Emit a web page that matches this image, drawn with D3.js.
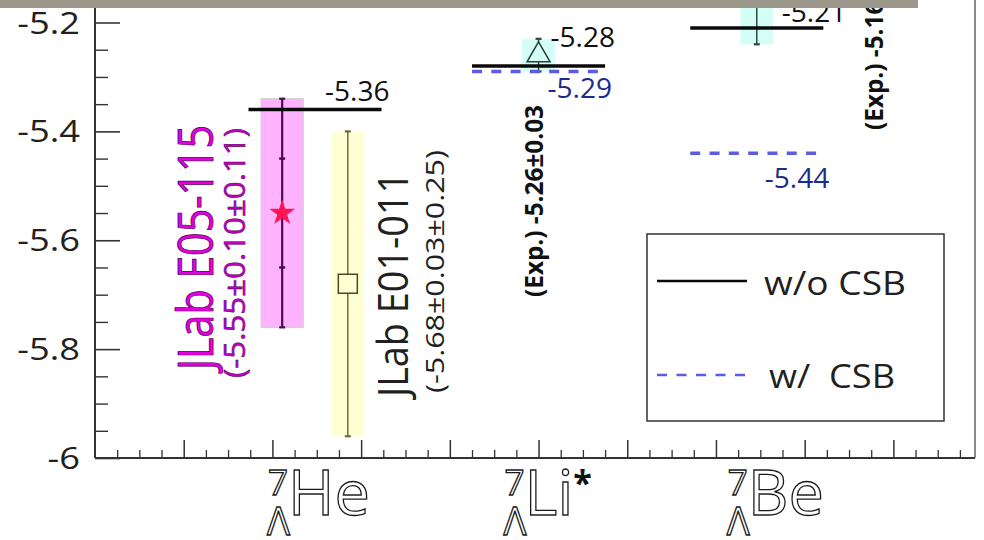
<!DOCTYPE html>
<html><head><meta charset="utf-8">
<script src="https://cdn.jsdelivr.net/npm/d3@7"></script>
<style>html,body{margin:0;padding:0;background:#fff;} svg{display:block;}</style>
</head><body>
<svg id="chart" width="984" height="540"></svg>
<script>
// Hypernuclei and their centre positions along the x axis
const categories = ["He", "Li", "Be"];
const categoryX = [2.48, 5.0, 7.46];

// Calculated Lambda binding energies (MeV)
const withoutCSB = [-5.36, -5.28, -5.21];
const withCSB = [null, -5.29, -5.44];

// Measured values: position, central value, stat. error, total error bar
const expNames = ["JLab E05-115", "JLab E01-011", "Exp. Li", "Exp. Be"];
const expX = [2.11, 2.85, 5.0, 7.46];
const expValue = [-5.55, -5.68, -5.26, -5.16];
const expStat = [0.10, 0.03, 0.03, 0.08];
const expTotal = [0.21, 0.28, 0.03, 0.08];
const expSymbol = ["star", "square", "triangle", "circle"];
const expStatTicks = [true, false, false, false];

const yTicks = [-6, -5.8, -5.6, -5.4, -5.2];
const yTickLabels = ["-6", "-5.8", "-5.6", "-5.4", "-5.2"];
const legendLabels = ["w/o CSB", "w/  CSB"];

const svg = d3.select("#chart");
const FONT = "'Open Sans', 'Noto Sans', sans-serif";
const INK = "#231f20";

const x = d3.scaleLinear().domain([0, 9.92]).range([95, 975]);
const y = d3.scaleLinear().domain([-6, -5.2]).range([458, 22.5]);
const yTop = y.invert(0);

// ---- experimental bands, error bars, markers
const bandWidth = [42, 32, 33, 33];
const bandFill = ["#ffb3ff", "#ffffd4", "#d4fff7", "#d4fff7"];
const bandStroke = ["#cfcfcf", "none", "none", "none"];
const barColor = ["#4d0b4d", "#6d6d3e", "#2c4842", "#2c4842"];
const markerFill = ["#ff1456", "#ffffd4", "#d4fff7", "#d4fff7"];
const markerStroke = ["none", "#4a4a22", "#2c4038", "#2c4038"];

const exp = expNames.map((n, i) => ({
  name: n, x: expX[i], v: expValue[i], stat: expStat[i], tot: expTotal[i],
  sym: expSymbol[i], ticks: expStatTicks[i], i
}));

const gExp = svg.append("g");
gExp.selectAll("rect.band").data(exp).join("rect")
  .attr("x", d => x(d.x) - bandWidth[d.i] / 2)
  .attr("y", d => y(d.v + d.tot))
  .attr("width", d => bandWidth[d.i])
  .attr("height", d => y(d.v - d.tot) - y(d.v + d.tot))
  .attr("fill", d => bandFill[d.i])
  .attr("stroke", d => bandStroke[d.i])
  .attr("stroke-width", 1.2);

// theory lines (drawn over the bands, under the error bars)
const lineHalf = 0.75;
const gTh = svg.append("g");
categories.forEach((c, i) => {
  gTh.append("line")
    .attr("x1", x(categoryX[i] - lineHalf)).attr("x2", x(categoryX[i] + lineHalf))
    .attr("y1", y(withoutCSB[i])).attr("y2", y(withoutCSB[i]))
    .attr("stroke", "#0a0a0a").attr("stroke-width", 3.5);
  if (withCSB[i] !== null) {
    gTh.append("line")
      .attr("x1", x(categoryX[i] - lineHalf)).attr("x2", x(categoryX[i] + lineHalf))
      .attr("y1", y(withCSB[i])).attr("y2", y(withCSB[i]))
      .attr("stroke", "#5c5ce0").attr("stroke-width", 3.5)
      .attr("stroke-dasharray", "10,9.3");
  }
});

const capW = 6;
exp.forEach(d => {
  const g = gExp.append("g").attr("stroke", barColor[d.i]).attr("stroke-width", d.i === 0 ? 2.2 : 1.5);
  g.append("line").attr("x1", x(d.x)).attr("x2", x(d.x))
    .attr("y1", y(d.v + d.tot)).attr("y2", y(d.v - d.tot));
  [d.v + d.tot, d.v - d.tot].forEach(e => {
    g.append("line").attr("x1", x(d.x) - capW / 2).attr("x2", x(d.x) + capW / 2)
      .attr("y1", y(e)).attr("y2", y(e)).attr("stroke-width", 2.2);
  });
  if (d.ticks) {
    [d.v + d.stat, d.v - d.stat].forEach(e => {
      g.append("line").attr("x1", x(d.x) - capW / 2).attr("x2", x(d.x) + capW / 2)
        .attr("y1", y(e)).attr("y2", y(e)).attr("stroke-width", 2.5);
    });
  }
});

const symbolOf = { star: [d3.symbolStar, 205], square: [d3.symbolSquare, 361], triangle: [d3.symbolTriangle, 230], circle: [d3.symbolCircle, 110] };
gExp.selectAll("path.mk").data(exp).join("path")
  .attr("transform", d => `translate(${x(d.x)},${y(d.v)})`)
  .attr("d", d => d3.symbol(symbolOf[d.sym][0], symbolOf[d.sym][1])())
  .attr("fill", d => markerFill[d.i])
  .attr("stroke", d => markerStroke[d.i])
  .attr("stroke-width", 1.5);

// ---- value labels next to the theory lines
const woOffset = [[10, -9], [12, -19], [25, -5.5]];
const wOffset = [null, [9, 27], [8, 35]];
categories.forEach((c, i) => {
  svg.append("text").text(d3.format(".2f")(withoutCSB[i]).replace("−", "-"))
    .attr("x", x(categoryX[i]) + woOffset[i][0]).attr("y", y(withoutCSB[i]) + woOffset[i][1])
    .attr("font-family", FONT).attr("font-size", 28).attr("fill", "#111");
  if (withCSB[i] !== null) {
    svg.append("text").text(d3.format(".2f")(withCSB[i]).replace("−", "-"))
      .attr("x", x(categoryX[i]) + wOffset[i][0]).attr("y", y(withCSB[i]) + wOffset[i][1])
      .attr("font-family", FONT).attr("font-size", 28).attr("fill", "#1c2a8c");
  }
});

// ---- vertical annotations
const notes = [
  { t: "JLab E05-115", x: 213, y: 370, size: 50, len: 245, fill: "#e400e4", stroke: "#5a005a", sw: 0.8 },
  { t: "(-5.55±0.10±0.11)", x: 245, y: 378, size: 30, len: 250, fill: "#c200c2", stroke: "#5a005a", sw: 0.5 },
  { t: "JLab E01-011", x: 408, y: 397, size: 42, len: 225, fill: INK },
  { t: "(-5.68±0.03±0.25)", x: 444, y: 393, size: 26, len: 243, fill: INK },
  { t: "(Exp.) -5.26±0.03", x: 543, y: 297, size: 25, len: 192, fill: "#111", weight: 700 },
  { t: "(Exp.) -5.16±0.08", x: 883, y: 130, size: 25, len: 192, fill: "#111", weight: 700 }
];
notes.forEach(n => {
  svg.append("text").text(n.t)
    .attr("transform", `translate(${n.x},${n.y}) rotate(-90)`)
    .attr("font-family", FONT).attr("font-size", n.size)
    .attr("font-weight", n.weight || 400)
    .attr("textLength", n.len).attr("lengthAdjust", "spacingAndGlyphs")
    .attr("fill", n.fill)
    .attr("stroke", n.stroke || "none").attr("stroke-width", n.sw || 0);
});

// ---- axes
const axisColor = "#333";
const gAx = svg.append("g").attr("stroke", axisColor);
// left y axis with inward ticks
const yMinor = d3.range(-6, yTop, 0.05).filter(v => yTicks.every(t => Math.abs(t - v) > 1e-6));
gAx.append("g").attr("transform", "translate(95,0)")
  .call(d3.axisRight(y).tickValues(yTicks).tickSize(25).tickFormat(""))
  .call(g => g.select(".domain").remove())
  .selectAll("line").attr("stroke", axisColor).attr("stroke-width", 1.6);
gAx.append("g").attr("transform", "translate(95,0)")
  .call(d3.axisRight(y).tickValues(yMinor).tickSize(13).tickFormat(""))
  .call(g => g.select(".domain").remove())
  .selectAll("line").attr("stroke", axisColor).attr("stroke-width", 1.4);
// bottom x axis with inward ticks
const xMajor = d3.range(1, 10, 1);
const xMinor = d3.range(0.25, 9.9, 0.25).filter(v => Math.abs(v - Math.round(v)) > 1e-6);
gAx.append("g").attr("transform", "translate(0,458)")
  .call(d3.axisTop(x).tickValues(xMajor).tickSize(18).tickFormat(""))
  .call(g => g.select(".domain").remove())
  .selectAll("line").attr("stroke", axisColor).attr("stroke-width", 1.5);
gAx.append("g").attr("transform", "translate(0,458)")
  .call(d3.axisTop(x).tickValues(xMinor).tickSize(8).tickFormat(""))
  .call(g => g.select(".domain").remove())
  .selectAll("line").attr("stroke", axisColor).attr("stroke-width", 1.3);
// frame lines
gAx.append("line").attr("x1", x(0)).attr("x2", x(0)).attr("y1", y(-6)).attr("y2", 0).attr("stroke-width", 2);
gAx.append("line").attr("x1", x(0)).attr("x2", x.range()[1]).attr("y1", y(-6)).attr("y2", y(-6)).attr("stroke-width", 2);
gAx.append("line").attr("x1", x.range()[1]).attr("x2", x.range()[1]).attr("y1", y(-6)).attr("y2", 0)
  .attr("stroke", "#666").attr("stroke-width", 1.5);

// y tick labels
svg.append("g").selectAll("text").data(yTicks).join("text")
  .attr("transform", d => `translate(80,${y(d) + 11}) scale(1.17,1)`)
  .attr("text-anchor", "end")
  .attr("font-family", FONT).attr("font-size", 31).attr("fill", INK)
  .text((d, i) => yTickLabels[i]);

// ---- category labels: superscript mass number, Lambda subscript, outlined symbol
const labelLeft = [-47, -34, -29];
categories.forEach((c, i) => {
  const x0 = x(categoryX[i]) + labelLeft[i];
  const t = svg.append("text").attr("x", x0).attr("y", 495)
    .attr("font-family", FONT).attr("fill", "#fff").attr("stroke", "#1a1a1a").attr("stroke-width", 1.3);
  t.append("tspan").attr("font-size", 35).text("7");
  t.append("tspan").attr("font-size", 63).attr("dy", 20).text(c);
  if (c === "Li") {
    t.append("tspan").attr("font-size", 34).attr("font-weight", 700).attr("dy", -20)
      .attr("fill", "#111").attr("stroke", "none").text("*");
  }
  svg.append("text").attr("x", x0 - 1).attr("y", 535)
    .attr("font-family", FONT).attr("font-size", 38)
    .attr("fill", "#fff").attr("stroke", "#1a1a1a").attr("stroke-width", 1.3).text("Λ");
});

// ---- legend
const lg = svg.append("g");
lg.append("rect").attr("x", 647).attr("y", 234).attr("width", 297).attr("height", 187)
  .attr("fill", "#fff").attr("stroke", "#333").attr("stroke-width", 1.5);
lg.append("line").attr("x1", 657).attr("x2", 747).attr("y1", 281).attr("y2", 281)
  .attr("stroke", "#0a0a0a").attr("stroke-width", 2.6);
lg.append("line").attr("x1", 657).attr("x2", 747).attr("y1", 375).attr("y2", 375)
  .attr("stroke", "#5c5ce0").attr("stroke-width", 2.6).attr("stroke-dasharray", "10,9.5");
lg.append("text").attr("x", 764).attr("y", 295).text(legendLabels[0])
  .attr("font-family", FONT).attr("font-size", 33).attr("fill", INK)
  .attr("textLength", 142).attr("lengthAdjust", "spacingAndGlyphs");
lg.append("text").attr("x", 769).attr("y", 388).text(legendLabels[1])
  .attr("font-family", FONT).attr("font-size", 33).attr("fill", INK).attr("xml:space", "preserve")
  .style("white-space", "pre")
  .attr("textLength", 126).attr("lengthAdjust", "spacingAndGlyphs");

// ---- header strip
svg.append("rect").attr("x", 0).attr("y", 0).attr("width", 918).attr("height", 8).attr("fill", "#9b978a");
</script>
</body></html>
